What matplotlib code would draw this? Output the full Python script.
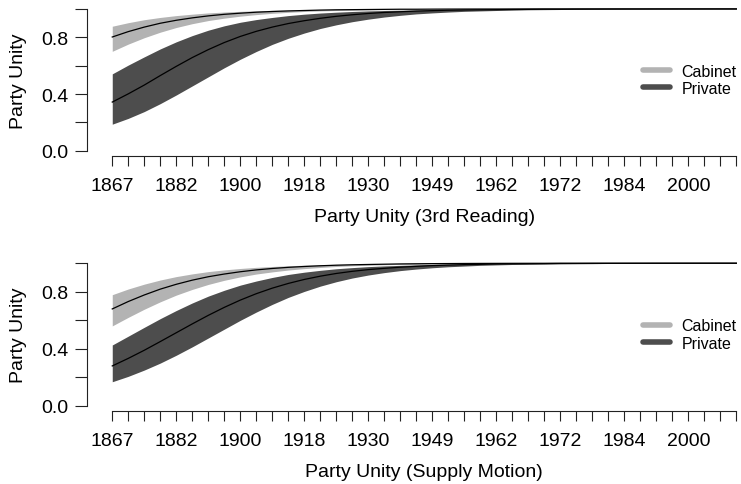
import matplotlib
matplotlib.use("Agg")
import matplotlib.pyplot as plt
from matplotlib.lines import Line2D

plt.rcParams['font.family'] = ['Liberation Sans', 'DejaVu Sans']

# parliament index 1..40, first session year of each parliament
parl = list(range(1, 41))
years = [1867, 1872, 1874, 1878, 1882, 1887, 1891, 1896, 1900, 1904,
         1908, 1911, 1918, 1921, 1926, 1926, 1930, 1935, 1940, 1945,
         1949, 1953, 1957, 1958, 1962, 1963, 1965, 1968, 1972, 1974,
         1979, 1980, 1984, 1988, 1993, 1997, 2000, 2004, 2006, 2008]

# --- 3rd reading ---
rd_cab_mean = [0.802, 0.840, 0.872, 0.899, 0.920, 0.937, 0.951, 0.962, 0.970, 0.977,
               0.982, 0.986, 0.989, 0.992, 0.994, 0.995, 0.996, 0.997, 0.998, 0.998,
               0.9986, 0.999, 0.9992, 0.9994, 0.9995, 0.9996, 0.9997, 0.9998, 0.9998, 0.9999,
               0.9999, 0.9999, 0.9999, 0.9999, 1.0, 1.0, 1.0, 1.0, 1.0, 1.0]
rd_cab_hi = [0.878, 0.903, 0.924, 0.940, 0.953, 0.963, 0.972, 0.978, 0.983, 0.987,
             0.990, 0.992, 0.994, 0.995, 0.996, 0.997, 0.998, 0.998, 0.9987, 0.999,
             0.9992, 0.9994, 0.9995, 0.9996, 0.9997, 0.9998, 0.9998, 0.9999, 0.9999, 0.9999,
             0.9999, 1.0, 1.0, 1.0, 1.0, 1.0, 1.0, 1.0, 1.0, 1.0]
rd_cab_lo = [0.701, 0.752, 0.797, 0.836, 0.869, 0.896, 0.918, 0.935, 0.949, 0.960,
             0.969, 0.976, 0.982, 0.986, 0.989, 0.991, 0.993, 0.995, 0.996, 0.997,
             0.9976, 0.9982, 0.9986, 0.9989, 0.9992, 0.9994, 0.9995, 0.9996, 0.9997, 0.9998,
             0.9998, 0.9999, 0.9999, 0.9999, 0.9999, 1.0, 1.0, 1.0, 1.0, 1.0]
rd_prv_mean = [0.343, 0.401, 0.463, 0.530, 0.595, 0.657, 0.713, 0.763, 0.806, 0.842,
               0.872, 0.897, 0.917, 0.934, 0.948, 0.959, 0.968, 0.975, 0.980, 0.985,
               0.988, 0.991, 0.993, 0.994, 0.995, 0.996, 0.997, 0.998, 0.998, 0.9986,
               0.9989, 0.9992, 0.9994, 0.9995, 0.9996, 0.9997, 0.9998, 0.9998, 0.9999, 0.9999]
rd_prv_hi = [0.542, 0.604, 0.662, 0.718, 0.768, 0.812, 0.850, 0.881, 0.906, 0.925,
             0.940, 0.953, 0.963, 0.971, 0.977, 0.982, 0.986, 0.989, 0.991, 0.993,
             0.994, 0.996, 0.997, 0.997, 0.998, 0.998, 0.9987, 0.999, 0.9992, 0.9994,
             0.9995, 0.9996, 0.9997, 0.9998, 0.9998, 0.9999, 0.9999, 0.9999, 0.9999, 1.0]
rd_prv_lo = [0.187, 0.228, 0.276, 0.332, 0.393, 0.457, 0.521, 0.585, 0.645, 0.700,
             0.750, 0.793, 0.830, 0.862, 0.888, 0.910, 0.928, 0.943, 0.955, 0.965,
             0.972, 0.978, 0.983, 0.986, 0.989, 0.992, 0.994, 0.995, 0.996, 0.997,
             0.9976, 0.9981, 0.9985, 0.9989, 0.9991, 0.9993, 0.9995, 0.9996, 0.9997, 0.9998]

# --- supply motion ---
sm_cab_mean = [0.679, 0.731, 0.777, 0.818, 0.852, 0.881, 0.905, 0.924, 0.940, 0.953,
               0.963, 0.971, 0.977, 0.982, 0.986, 0.989, 0.991, 0.993, 0.995, 0.996,
               0.997, 0.9975, 0.9981, 0.9985, 0.9988, 0.9991, 0.9993, 0.9994, 0.9996, 0.9997,
               0.9997, 0.9998, 0.9998, 0.9998, 0.9999, 0.9999, 0.9999, 0.9999, 1.0, 1.0]
sm_cab_hi = [0.779, 0.819, 0.853, 0.882, 0.906, 0.925, 0.941, 0.953, 0.963, 0.971,
             0.977, 0.982, 0.986, 0.989, 0.992, 0.993, 0.995, 0.996, 0.997, 0.998,
             0.998, 0.9985, 0.9988, 0.9991, 0.9993, 0.9995, 0.9996, 0.9997, 0.9997, 0.9998,
             0.9998, 0.9999, 0.9999, 0.9999, 0.9999, 1.0, 1.0, 1.0, 1.0, 1.0]
sm_cab_lo = [0.560, 0.620, 0.677, 0.729, 0.776, 0.816, 0.851, 0.880, 0.904, 0.924,
             0.939, 0.952, 0.962, 0.970, 0.977, 0.982, 0.986, 0.989, 0.991, 0.993,
             0.995, 0.996, 0.997, 0.9975, 0.9981, 0.9985, 0.9988, 0.9991, 0.9993, 0.9994,
             0.9996, 0.9997, 0.9997, 0.9998, 0.9998, 0.9999, 0.9999, 0.9999, 0.9999, 1.0]
sm_prv_mean = [0.279, 0.332, 0.389, 0.450, 0.512, 0.574, 0.634, 0.690, 0.741, 0.786,
               0.825, 0.858, 0.886, 0.909, 0.928, 0.943, 0.955, 0.964, 0.972, 0.978,
               0.983, 0.987, 0.990, 0.992, 0.994, 0.995, 0.996, 0.997, 0.998, 0.998,
               0.9986, 0.9989, 0.9991, 0.9993, 0.9995, 0.9996, 0.9997, 0.9998, 0.9998, 0.9998]
sm_prv_hi = [0.426, 0.488, 0.550, 0.611, 0.668, 0.721, 0.769, 0.810, 0.846, 0.875,
             0.900, 0.921, 0.937, 0.950, 0.961, 0.969, 0.976, 0.981, 0.985, 0.988,
             0.991, 0.993, 0.995, 0.996, 0.997, 0.997, 0.998, 0.998, 0.9988, 0.999,
             0.9993, 0.9994, 0.9995, 0.9996, 0.9997, 0.9998, 0.9998, 0.9999, 0.9999, 0.9999]
sm_prv_lo = [0.168, 0.206, 0.250, 0.299, 0.354, 0.413, 0.475, 0.537, 0.599, 0.657,
             0.711, 0.760, 0.802, 0.839, 0.870, 0.896, 0.917, 0.934, 0.948, 0.959,
             0.968, 0.975, 0.980, 0.985, 0.988, 0.991, 0.993, 0.994, 0.996, 0.997,
             0.997, 0.998, 0.998, 0.9987, 0.999, 0.9992, 0.9994, 0.9995, 0.9996, 0.9997]

cab_col = '#b3b3b3'
prv_col = '#4d4d4d'


def panel(ax, cab, prv, xlabel, leg_x):
    cab_mean, cab_hi, cab_lo = cab
    prv_mean, prv_hi, prv_lo = prv
    ax.fill_between(parl, cab_lo, cab_hi, color=cab_col, lw=0)
    ax.fill_between(parl, prv_lo, prv_hi, color=prv_col, lw=0)
    ax.plot(parl, cab_mean, color='black', lw=0.9)
    ax.plot(parl, prv_mean, color='black', lw=0.9)

    ax.set_xlim(1 - 0.04 * 39, 40 + 0.04 * 39)
    ax.set_ylim(-0.04, 1.04)
    for s in ['top', 'right']:
        ax.spines[s].set_visible(False)
    ax.spines['left'].set_bounds(0, 1)
    ax.spines['bottom'].set_bounds(1, 40)
    for s in ['left', 'bottom']:
        ax.spines[s].set_linewidth(0.8)
        ax.spines[s].set_color('#222222')

    ax.set_xticks(parl)
    ax.set_xticklabels([str(y) if i % 4 == 0 else '' for i, y in enumerate(years)])
    ax.set_yticks([0, 0.2, 0.4, 0.6, 0.8, 1.0])
    ax.set_yticklabels(['0.0', '', '0.4', '', '0.8', ''])
    ax.tick_params(axis='x', length=7, width=0.8, pad=8, labelsize=14, color='#222222')
    ax.tick_params(axis='y', length=8.5, width=0.8, pad=5, labelsize=14, color='#222222')
    ax.set_xlabel(xlabel, fontsize=14, labelpad=10)
    ax.set_ylabel('Party Unity', fontsize=14, labelpad=10)

    handles = [Line2D([], [], color=cab_col, lw=4, solid_capstyle='round'),
               Line2D([], [], color=prv_col, lw=4, solid_capstyle='round')]
    ax.legend(handles, ['Cabinet', 'Private'], loc='center left',
              bbox_to_anchor=(leg_x, 0.5), frameon=False, fontsize=11.5,
              handlelength=1.7, handletextpad=0.7, labelspacing=0.15,
              borderpad=0, borderaxespad=0)


fig = plt.figure(figsize=(7.41, 4.85), dpi=100)
ax1 = fig.add_axes([0.1178, 0.6755, 0.9096, 0.3157])
ax2 = fig.add_axes([0.1178, 0.1497, 0.9096, 0.3173])

panel(ax1, (rd_cab_mean, rd_cab_hi, rd_cab_lo), (rd_prv_mean, rd_prv_hi, rd_prv_lo),
      'Party Unity (3rd Reading)', 0.8245)
panel(ax2, (sm_cab_mean, sm_cab_hi, sm_cab_lo), (sm_prv_mean, sm_prv_hi, sm_prv_lo),
      'Party Unity (Supply Motion)', 0.8245)

fig.savefig('out.png', dpi=100)
